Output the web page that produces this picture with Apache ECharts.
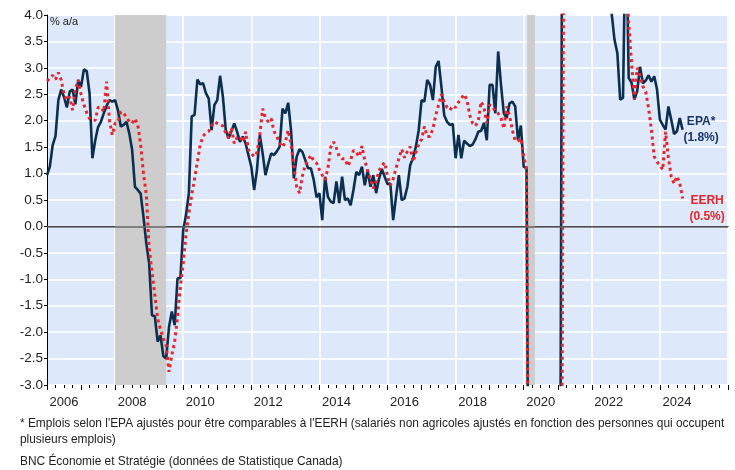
<!DOCTYPE html>
<html>
<head>
<meta charset="utf-8">
<script src="https://cdn.jsdelivr.net/npm/echarts@6/dist/echarts.min.js"></script>
<style>
  body { margin: 0; background: #fff; }
  #chart { width: 735px; height: 470px; }
</style>
</head>
<body>
<div id="chart"></div>
<script>
// Monthly series, first value = January 2006 (% a/a)
var startYear = 2006;

// EPA* (emplois selon l'EPA, ajustés)
var epa = [
  0.97, 1.13, 1.54, 1.71, 2.39, 2.59, 2.45, 2.25, 2.55, 2.59, 2.31, 2.77,   // 2006
  2.64, 2.97, 2.94, 2.52, 1.29, 1.63, 1.88, 1.98, 2.14, 2.28, 2.39, 2.36,   // 2007
  2.39, 2.20, 1.89, 1.92, 1.98, 1.76, 1.45, 0.75, 0.69, 0.62, 0.18, -0.32,  // 2008
  -0.70, -1.68, -1.70, -2.18, -2.06, -2.45, -2.50, -1.90, -1.61, -1.87, -0.98, -0.98, // 2009
  -0.07, 0.22, 0.63, 2.08, 2.11, 2.78, 2.69, 2.71, 2.52, 2.42, 1.82, 2.30,  // 2010
  2.39, 2.85, 2.45, 1.82, 1.67, 1.80, 1.95, 1.79, 1.60, 1.70, 1.57, 1.35,   // 2011
  1.13, 0.69, 1.07, 1.73, 1.38, 0.97, 1.19, 1.38, 1.35, 1.42, 1.51, 2.23,   // 2012
  2.14, 2.34, 1.82, 0.91, 1.32, 1.46, 1.41, 1.26, 1.10, 1.10, 0.88, 0.55,   // 2013
  0.63, 0.12, 0.94, 0.56, 0.47, 0.44, 0.85, 0.44, 0.94, 0.50, 0.53, 0.40,   // 2014
  0.69, 1.03, 0.97, 1.13, 0.78, 1.06, 0.75, 0.97, 0.63, 0.90, 1.09, 0.94,   // 2015
  0.80, 0.81, 0.12, 0.56, 0.97, 0.50, 0.53, 0.75, 1.16, 1.29, 1.51, 1.82,   // 2016
  2.39, 2.36, 2.77, 2.68, 2.39, 3.02, 3.13, 2.64, 2.10, 1.98, 1.92, 1.94,   // 2017
  1.29, 1.73, 1.29, 1.62, 1.57, 1.52, 1.55, 1.65, 1.79, 1.81, 1.96, 1.63,   // 2018
  2.68, 2.68, 2.14, 3.31, 2.68, 2.14, 2.05, 2.33, 2.36, 2.27, 1.63, 1.91,   // 2019
  1.13, 1.10, -9.0, -15.7, -13.2, -9.5, -7.2, -5.6, -4.0, -3.6, -3.4, -3.5, // 2020
  -4.8, -3.3, 14.0, 13.5, 10.0, 7.8, 6.5, 5.4, 4.9, 4.6, 4.8, 5.3,          // 2021
  4.8, 6.4, 5.6, 5.2, 5.0, 4.6, 4.5, 4.03, 3.53, 3.28, 2.40, 2.43,          // 2022
  6.0, 2.81, 2.72, 2.40, 2.56, 3.02, 2.71, 2.76, 2.86, 2.74, 2.84, 2.59,    // 2023
  2.02, 1.92, 1.83, 2.27, 2.02, 1.75, 1.80, 2.05, 1.83                      // 2024
];

// EERH
var eerh = [
  2.75, 2.80, 2.86, 2.78, 2.91, 2.77, 2.50, 2.39, 2.45, 2.20, 2.60, 2.77,   // 2006
  2.50, 2.30, 2.15, 2.04, 2.01, 2.01, 2.25, 2.26, 2.17, 2.74, 2.01, 1.73,   // 2007
  1.95, 1.98, 2.17, 2.14, 2.07, 1.98, 1.95, 2.04, 1.92, 1.55, 1.00, 0.60,   // 2008
  -0.40, -0.85, -1.30, -1.75, -1.95, -2.12, -2.25, -2.75, -2.43, -2.18, -1.70, -1.14, // 2009
  -0.70, -0.15, 0.25, 0.60, 0.90, 1.22, 1.55, 1.71, 1.77, 1.80, 1.90, 1.98, // 2010
  1.95, 1.93, 1.90, 1.76, 1.67, 1.86, 1.57, 1.68, 1.70, 1.60, 1.79, 1.45,   // 2011
  1.38, 1.32, 1.40, 1.73, 2.23, 2.05, 1.98, 2.04, 1.80, 1.70, 1.58, 1.50,   // 2012
  1.60, 1.82, 1.55, 1.15, 0.75, 0.63, 0.95, 1.16, 1.25, 1.35, 1.24, 1.20,   // 2013
  1.07, 0.97, 0.88, 1.10, 1.50, 1.60, 1.48, 1.32, 1.28, 1.28, 1.14, 1.25,   // 2014
  1.44, 1.40, 1.32, 1.52, 1.25, 1.05, 0.90, 0.72, 0.85, 1.05, 1.15, 1.21,   // 2015
  0.95, 0.78, 0.90, 1.10, 1.28, 1.46, 1.30, 1.42, 1.51, 1.22, 1.40, 1.55,   // 2016
  1.65, 1.89, 1.70, 1.70, 1.85, 2.10, 2.30, 2.50, 2.35, 2.25, 2.20, 2.28,   // 2017
  2.25, 2.35, 2.42, 2.50, 2.39, 2.10, 1.95, 1.90, 2.00, 2.36, 2.25, 1.95,   // 2018
  2.30, 2.28, 2.17, 2.14, 2.05, 1.85, 2.27, 2.10, 1.82, 1.62, 1.62, 1.67,   // 2019
  1.32, 1.10, -9.0, -15.0, -13.5, -10.0, -8.0, -6.5, -5.0, -4.5, -4.0, -4.2, // 2020
  -6.0, -12.0, 4.2, 16.0, 13.0, 9.0, 7.5, 6.5, 5.8, 5.2, 5.3, 5.5,          // 2021
  5.0, 5.6, 5.4, 5.0, 4.8, 4.7, 4.6, 4.5, 4.6, 4.5, 4.7, 4.6,               // 2022
  4.8, 3.85, 3.10, 2.40, 3.00, 2.85, 2.65, 2.55, 2.24, 1.83, 1.32, 1.22,    // 2023
  1.16, 1.07, 1.79, 1.30, 0.94, 0.81, 0.95, 0.82, 0.53                      // 2024
];

// shaded recessions (start, end) in decimal years
var recessions = [[2008.0, 2009.5], [2020.1, 2020.33]];

// year labels for the bottom axis (one slot per year)
var years = [];
for (var y = 2006; y < 2026; y++) years.push(String(y));

var endLabelEpa = 'EPA*\n(1.8%)';
var endLabelEerh = 'EERH\n(0.5%)';

var navy = '#0c2f4f';
var red = '#e8242c';
var font = "'Liberation Sans', Arial, sans-serif";

function toPoints(values) {
  return values.map(function (v, i) { return [startYear + i / 12, v]; });
}

function lastPoint(values) {
  var i = values.length - 1;
  return [startYear + i / 12, values[i]];
}

var myChart = echarts.init(document.getElementById('chart'), null, { renderer: 'canvas' });

var option = {
  animation: false,
  textStyle: { fontFamily: font },
  grid: {
    left: 47, right: 7, top: 15, bottom: 85,
    show: true, backgroundColor: '#dde9fa', borderWidth: 0
  },
  xAxis: [
    {
      // data axis + vertical gridlines every 2 years
      type: 'value', min: 2006, max: 2026, interval: 2,
      axisLine: { show: true, lineStyle: { color: '#000', width: 1 } },
      axisTick: { show: false },
      axisLabel: { show: false },
      splitLine: { show: true, lineStyle: { color: '#fff', width: 1.5 } }
    },
    {
      // yearly ticks + quarterly minor ticks
      type: 'value', min: 2006, max: 2026, interval: 1, position: 'bottom',
      axisLine: { show: false },
      axisTick: { show: true, length: 5, lineStyle: { color: '#000' } },
      minorTick: { show: true, splitNumber: 4, length: 3, lineStyle: { color: '#000' } },
      axisLabel: { show: false },
      splitLine: { show: false }
    },
    {
      // year labels centered in each year
      type: 'category', data: years, boundaryGap: true, position: 'bottom',
      axisLine: { show: false },
      axisTick: { show: false },
      axisLabel: { interval: 1, margin: 11, fontSize: 13, color: '#222' },
      splitLine: { show: false }
    }
  ],
  yAxis: {
    type: 'value', min: -3, max: 4, interval: 0.5,
    axisLine: { show: true, lineStyle: { color: '#000', width: 1 } },
    axisTick: { show: true, length: 3, lineStyle: { color: '#000' } },
    axisLabel: {
      margin: 4, fontSize: 13.5, color: '#222',
      formatter: function (v) { return v.toFixed(1); }
    },
    splitLine: { show: true, lineStyle: { color: '#fff', width: 1.5 } }
  },
  series: [
    {
      // recession bands and zero line
      type: 'line', xAxisIndex: 0, data: [], z: 1, silent: true,
      markArea: {
        silent: true,
        itemStyle: { color: '#cdcdcd' },
        data: recessions.map(function (r) { return [{ xAxis: r[0] }, { xAxis: r[1] }]; })
      },
      markLine: {
        silent: true, symbol: 'none',
        label: { show: false },
        lineStyle: { color: '#666', width: 1.5, type: 'solid' },
        data: [{ yAxis: 0 }]
      }
    },
    {
      name: 'EPA*',
      type: 'line', xAxisIndex: 0, z: 3,
      showSymbol: false, symbol: 'none',
      data: toPoints(epa),
      lineStyle: { color: navy, width: 2.6 },
      markPoint: {
        silent: true, symbol: 'rect', symbolSize: 1,
        itemStyle: { color: 'rgba(0,0,0,0)' },
        label: {
          show: true, formatter: endLabelEpa, position: [19, 0],
          align: 'center', verticalAlign: 'middle',
          color: '#1b326b', fontWeight: 'bold', fontSize: 12, lineHeight: 16
        },
        data: [{ coord: lastPoint(epa) }]
      }
    },
    {
      name: 'EERH',
      type: 'line', xAxisIndex: 0, z: 4,
      showSymbol: false, symbol: 'none',
      data: toPoints(eerh),
      lineStyle: { color: red, width: 3, type: [3, 3.5] },
      markPoint: {
        silent: true, symbol: 'rect', symbolSize: 1,
        itemStyle: { color: 'rgba(0,0,0,0)' },
        label: {
          show: true, formatter: endLabelEerh, position: [25, 11],
          align: 'center', verticalAlign: 'middle',
          color: red, fontWeight: 'bold', fontSize: 12, lineHeight: 16
        },
        data: [{ coord: lastPoint(eerh) }]
      }
    }
  ],
  graphic: [
    { type: 'text', left: 50, top: 16, style: { text: '% a/a', fontSize: 11, fill: '#222', fontFamily: font } },
    {
      type: 'text', left: 20, top: 416,
      style: {
        text: "* Emplois selon l'EPA ajustés pour être comparables à l'EERH (salariés non agricoles ajustés en fonction des personnes qui occupent\nplusieurs emplois)",
        fontSize: 11.9, lineHeight: 16, fill: '#222', fontFamily: font
      }
    },
    {
      type: 'text', left: 20, top: 456,
      style: { text: 'BNC Économie et Stratégie (données de Statistique Canada)', fontSize: 11.9, fill: '#222', fontFamily: font }
    }
  ]
};

myChart.setOption(option);

window.onresize = function () { myChart.resize(); };
</script>
</body>
</html>
